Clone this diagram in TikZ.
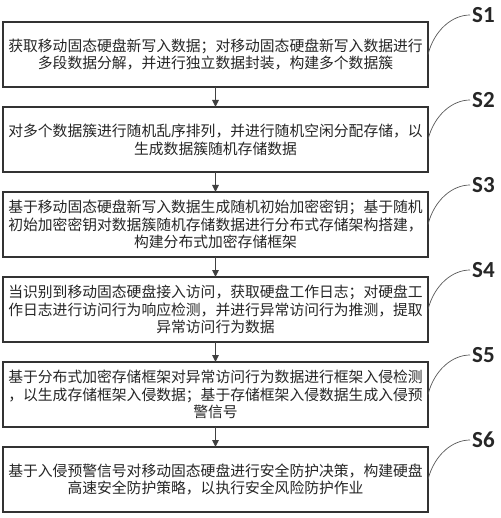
\documentclass[tikz,border=0pt]{standalone}
\usepackage{fontspec}
\newfontfamily\cjk{Noto Sans CJK SC}
\newfontfamily\labfont{Carlito}
\usetikzlibrary{arrows.meta}
\begin{document}
\begin{tikzpicture}[x=1pt,y=-1pt,
  stepbox/.style={draw=black!80, line width=1.1pt, minimum width=425pt, minimum height=65pt,
    inner sep=0pt, outer sep=0pt, text width=420pt, align=center,
    font=\cjk\fontsize{14.8}{17.8}\selectfont, text=black!85},
  slabel/.style={anchor=west, inner sep=0pt, font=\labfont\bfseries\fontsize{23}{23}\selectfont, text=black!85},
  arr/.style={draw=black!75, line width=1.1pt, -{Triangle[length=7pt,width=6.5pt]}},
  lead/.style={draw=black!65, line width=0.7pt}]
\fill[white] (0,0) rectangle (500,518);
\useasboundingbox (0,0) rectangle (500,518);
\node[stepbox] (b1) at (215.5,54.5) {获取移动固态硬盘新写入数据；对移动固态硬盘新写入数据进行\\多段数据分解，并进行独立数据封装，构建多个数据簇};
\node[stepbox] (b2) at (215.5,139.5) {对多个数据簇进行随机乱序排列，并进行随机空闲分配存储，以\\生成数据簇随机存储数据};
\node[stepbox] (b3) at (215.5,224.5) {基于移动固态硬盘新写入数据生成随机初始加密密钥；基于随机\\初始加密密钥对数据簇随机存储数据进行分布式存储架构搭建，\\构建分布式加密存储框架};
\node[stepbox] (b4) at (215.5,309.5) {当识别到移动固态硬盘接入访问，获取硬盘工作日志；对硬盘工\\作日志进行访问行为响应检测，并进行异常访问行为推测，提取\\异常访问行为数据};
\node[stepbox] (b5) at (215.5,394.5) {基于分布式加密存储框架对异常访问行为数据进行框架入侵检测\\，以生成存储框架入侵数据；基于存储框架入侵数据生成入侵预\\警信号};
\node[stepbox] (b6) at (215.5,479.5) {基于入侵预警信号对移动固态硬盘进行安全防护决策，构建硬盘\\高速安全防护策略，以执行安全风险防护作业};
\node[slabel] (s1) at (472,15) {S1};
\node[slabel] (s2) at (472,100) {S2};
\node[slabel] (s3) at (472,185) {S3};
\node[slabel] (s4) at (472,270) {S4};
\node[slabel] (s5) at (472,355) {S5};
\node[slabel] (s6) at (472,440) {S6};
\foreach \i/\j in {1/2,2/3,3/4,4/5,5/6} {
  \draw[arr] (b\i.south) -- (b\j.north);
}
\foreach \i in {1,...,6} {
  \draw[lead] (b\i.east) .. controls +(6,-24) and +(-18,0) .. ([xshift=-2pt]s\i.west);
}
\end{tikzpicture}
\end{document}
